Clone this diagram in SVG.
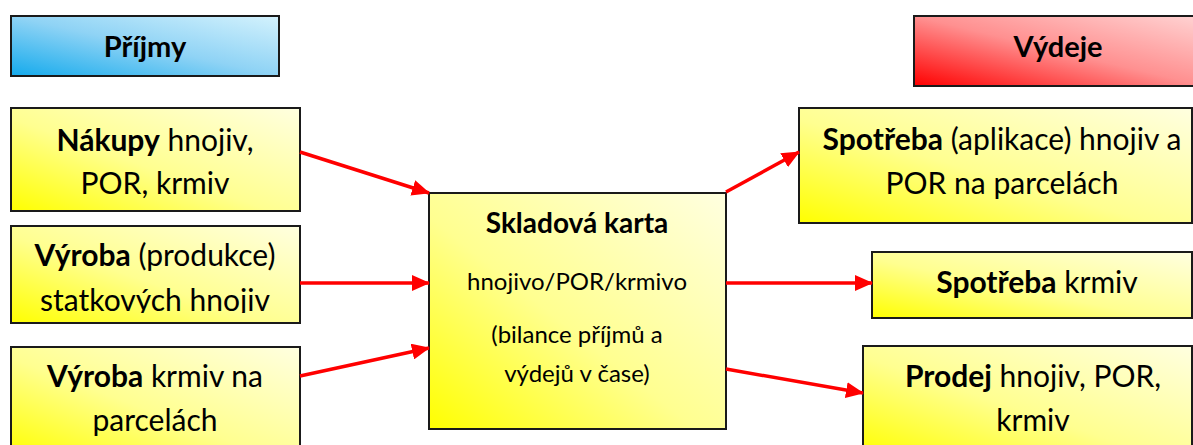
<svg xmlns="http://www.w3.org/2000/svg" width="1193" height="445" viewBox="0 0 1193 445">
<style>
.box{stroke:#1a1a1a;stroke-width:2}
.y{fill:url(#gy)}
.t{font-family:Lato,"Open Sans",sans-serif;font-size:30px;fill:#000;text-anchor:middle}
.c{font-size:24px}
.h{font-size:29px}
.b{font-weight:bold}
.conn{stroke:#ff0000;stroke-width:3.5;fill:none;marker-end:url(#ah)}
</style>
<defs>
<linearGradient id="gy" x1="0" y1="1" x2="1" y2="0">
<stop offset="0" stop-color="#ffff00"/>
<stop offset="0.45" stop-color="#ffff90"/>
<stop offset="1" stop-color="#ffffe0"/>
</linearGradient>
<linearGradient id="gb" x1="0" y1="1" x2="1" y2="0">
<stop offset="0" stop-color="#14aaec"/>
<stop offset="0.5" stop-color="#8fd3f5"/>
<stop offset="1" stop-color="#d4f2fd"/>
</linearGradient>
<linearGradient id="gr" x1="0" y1="1" x2="1" y2="0">
<stop offset="0" stop-color="#ff0000"/>
<stop offset="0.5" stop-color="#ff9090"/>
<stop offset="1" stop-color="#ffd4d4"/>
</linearGradient>
<marker id="ah" markerUnits="userSpaceOnUse" markerWidth="18" markerHeight="16" refX="17" refY="8" orient="auto">
<path d="M0,0 L18,8 L0,16 Z" fill="#ff0000"/>
</marker>
<clipPath id="clip2"><rect x="11" y="226" width="289" height="87"/></clipPath>
</defs>

<g id="prijmy">
<rect class="box" x="11" y="16" width="268" height="60" fill="url(#gb)"/>
<text class="t h b" x="145" y="57">Příjmy</text>
</g>
<g id="vydeje">
<rect class="box" x="914" y="16" width="290" height="70" fill="url(#gr)"/>
<text class="t h b" x="1058" y="57">Výdeje</text>
</g>

<g id="nakupy">
<rect class="box y" x="11" y="108" width="289" height="103"/>
<text class="t" x="155" y="151"><tspan class="b">Nákupy</tspan> hnojiv,</text>
<text class="t" x="155" y="194">POR, krmiv</text>
</g>
<g id="vyroba-hnojiv">
<rect class="box y" x="11" y="226" width="289" height="97"/>
<text class="t" x="155" y="266"><tspan class="b">Výroba</tspan> (produkce)</text>
<text class="t" x="155" y="311" clip-path="url(#clip2)">statkových hnojiv</text>
</g>
<g id="vyroba-krmiv">
<rect class="box y" x="11" y="347" width="289" height="110"/>
<text class="t" x="155" y="387"><tspan class="b">Výroba</tspan> krmiv na</text>
<text class="t" x="155" y="431">parcelách</text>
</g>

<g id="skladova-karta">
<rect class="box y" x="429" y="193" width="297" height="236"/>
<text class="t b" style="font-size:28px" x="577" y="233">Skladová karta</text>
<text class="t c" x="577" y="290">hnojivo/POR/krmivo</text>
<text class="t c" x="577" y="343">(bilance příjmů a</text>
<text class="t c" x="577" y="382">výdejů v čase)</text>
</g>

<g id="spotreba-aplikace">
<rect class="box y" x="799" y="108" width="393" height="115"/>
<text class="t" x="1002" y="150"><tspan class="b">Spotřeba</tspan> (aplikace) hnojiv a</text>
<text class="t" x="1002" y="194">POR na parcelách</text>
</g>
<g id="spotreba-krmiv">
<rect class="box y" x="872" y="252" width="320" height="66"/>
<text class="t" x="1037" y="293"><tspan class="b">Spotřeba</tspan> krmiv</text>
</g>
<g id="prodej">
<rect class="box y" x="863" y="346" width="329" height="110"/>
<text class="t" x="1033" y="387"><tspan class="b">Prodej</tspan> hnojiv, POR,</text>
<text class="t" x="1033" y="431">krmiv</text>
</g>

<g id="connectors">
<path class="conn" d="M300,152 L429,193"/>
<path class="conn" d="M300,283 L429,283"/>
<path class="conn" d="M300,376 L429,348"/>
<path class="conn" d="M726,192 L799,152"/>
<path class="conn" d="M726,283 L872,283"/>
<path class="conn" d="M726,369 L863,393"/>
</g>
</svg>
